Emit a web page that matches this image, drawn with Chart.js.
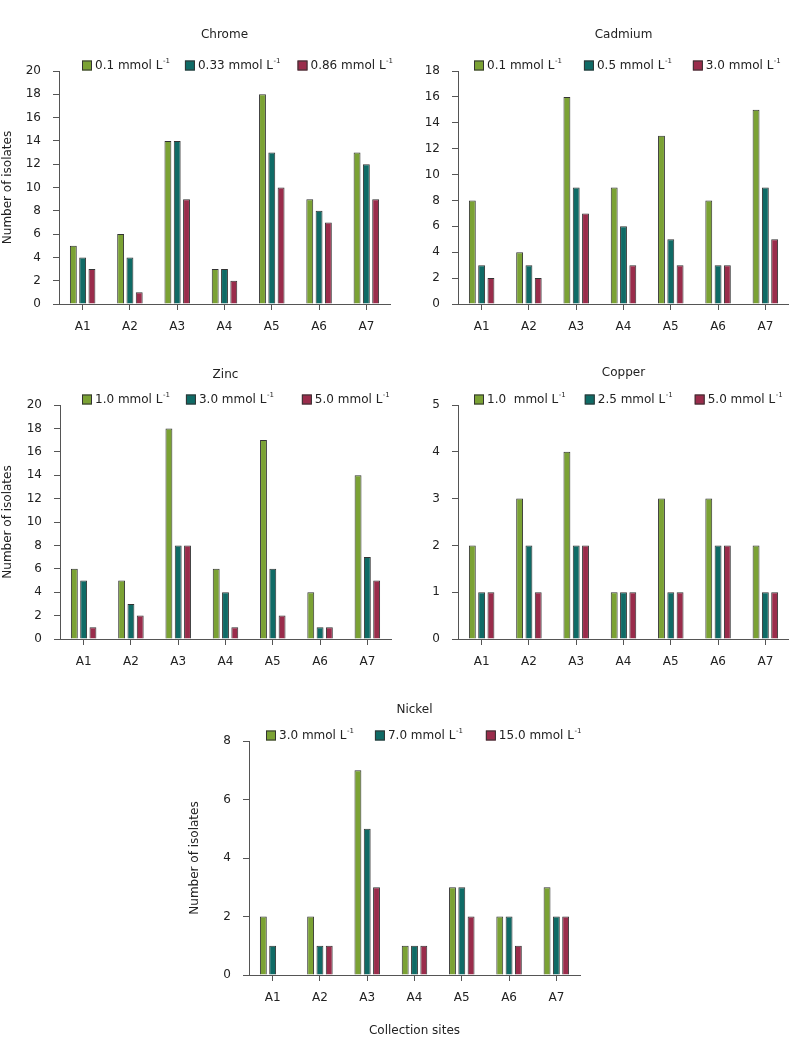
<!DOCTYPE html>
<html>
<head>
<meta charset="utf-8">
<script src="https://cdn.jsdelivr.net/npm/chart.js@4"></script>
<style>
  body { margin: 0; background: #fff; }
  .box { position: absolute; }
</style>
</head>
<body>
<div class="box" style="left:0;top:0;width:400px;height:334px"><canvas id="chrome"></canvas></div>
<div class="box" style="left:400px;top:0;width:389px;height:334px"><canvas id="cadmium"></canvas></div>
<div class="box" style="left:0;top:340px;width:400px;height:329px"><canvas id="zinc"></canvas></div>
<div class="box" style="left:400px;top:340px;width:389px;height:329px"><canvas id="copper"></canvas></div>
<div class="box" style="left:180px;top:680px;width:420px;height:358px"><canvas id="nickel"></canvas></div>
<script>
const sites = ["A1", "A2", "A3", "A4", "A5", "A6", "A7"];

// Chrome
const chromeLevels = ["0.1 mmol L⁻¹", "0.33 mmol L⁻¹", "0.86 mmol L⁻¹"];
const chromeLow = [5, 6, 14, 3, 18, 9, 13];
const chromeMid = [4, 4, 14, 3, 13, 8, 12];
const chromeHigh = [3, 1, 9, 2, 10, 7, 9];

// Cadmium
const cadmiumLevels = ["0.1 mmol L⁻¹", "0.5 mmol L⁻¹", "3.0 mmol L⁻¹"];
const cadmiumLow = [8, 4, 16, 9, 13, 8, 15];
const cadmiumMid = [3, 3, 9, 6, 5, 3, 9];
const cadmiumHigh = [2, 2, 7, 3, 3, 3, 5];

// Zinc
const zincLevels = ["1.0 mmol L⁻¹", "3.0 mmol L⁻¹", "5.0 mmol L⁻¹"];
const zincLow = [6, 5, 18, 6, 17, 4, 14];
const zincMid = [5, 3, 8, 4, 6, 1, 7];
const zincHigh = [1, 2, 8, 1, 2, 1, 5];

// Copper
const copperLevels = ["1.0  mmol L⁻¹", "2.5 mmol L⁻¹", "5.0 mmol L⁻¹"];
const copperLow = [2, 3, 4, 1, 3, 3, 2];
const copperMid = [1, 2, 2, 1, 1, 2, 1];
const copperHigh = [1, 1, 2, 1, 1, 2, 1];

// Nickel
const nickelLevels = ["3.0 mmol L⁻¹", "7.0 mmol L⁻¹", "15.0 mmol L⁻¹"];
const nickelLow = [2, 2, 7, 1, 3, 2, 3];
const nickelMid = [1, 1, 5, 1, 3, 2, 2];
const nickelHigh = [0, 1, 3, 1, 2, 1, 2];

const colors = ["#7ba234", "#0f6b66", "#9a2c4b"];
const FONT = "'DejaVu Sans', sans-serif";
Chart.defaults.font.family = FONT;
Chart.defaults.font.size = 12;
Chart.defaults.color = "#222";

// legend drawn just above the plot, left aligned, with a real superscript for L-1
const topLegend = {
  id: "topLegend",
  afterDraw(chart, args, opts) {
    const { ctx, chartArea } = chart;
    ctx.save();
    ctx.textBaseline = "middle";
    let x = chartArea.left + opts.offset;
    const y = chartArea.top - 5.5;
    chart.data.datasets.forEach((ds, i) => {
      ctx.fillStyle = ds.backgroundColor;
      ctx.fillRect(x, y - 5, 10, 10);
      ctx.strokeStyle = "#333";
      ctx.lineWidth = 1;
      ctx.strokeRect(x + 0.5, y - 4.5, 9, 9);
      ctx.fillStyle = "#222";
      const hasSup = ds.label.endsWith("⁻¹");
      const base = hasSup ? ds.label.slice(0, -2) : ds.label;
      ctx.font = "12px " + FONT;
      ctx.fillText(base, x + 13, y);
      let w = ctx.measureText(base).width;
      if (hasSup) {
        ctx.font = "7px " + FONT;
        ctx.fillText("-1", x + 13 + w + 0.5, y - 4);
        w += ctx.measureText("-1").width + 0.5;
      }
      x += 13 + w + (opts.gaps[i] || 0);
    });
    ctx.restore();
  },
};

function makeChart(id, opts) {
  const ctx = document.getElementById(id).getContext("2d");
  return new Chart(ctx, {
    type: "bar",
    data: {
      labels: sites,
      datasets: opts.series.map((values, i) => ({
        label: opts.levels[i],
        data: values,
        backgroundColor: colors[i],
        borderColor: "#333",
        borderWidth: 1,
        categoryPercentage: 0.59,
        barPercentage: 0.74,
      })),
    },
    options: {
      responsive: true,
      maintainAspectRatio: false,
      animation: false,
      layout: { padding: { right: opts.padRight || 0 } },
      plugins: {
        legend: { display: false },
        tooltip: { enabled: false },
        title: {
          display: true,
          text: opts.title,
          fullSize: false,
          color: "#222",
          font: { size: 12, weight: "normal" },
          padding: { top: opts.titleTop, bottom: opts.titleBottom },
        },
        topLegend: { offset: opts.legendOffset, gaps: opts.legendGaps },
      },
      scales: {
        x: {
          grid: { offset: false, drawOnChartArea: false, tickLength: 6, color: "#555" },
          border: { color: "#555" },
          ticks: { padding: 10, color: "#222" },
          title: {
            display: !!opts.xTitle,
            text: opts.xTitle,
            color: "#222",
            padding: { top: 0, bottom: 0 },
          },
          afterFit: (scale) => { scale.height = opts.xHeight; },
        },
        y: {
          min: 0,
          max: opts.max,
          grid: { drawOnChartArea: false, tickLength: 6, color: "#555" },
          border: { color: "#555" },
          ticks: { stepSize: opts.step, padding: 12, color: "#222" },
          title: {
            display: !!opts.yTitle,
            text: opts.yTitle,
            color: "#222",
            padding: { top: opts.yTitlePad || 1, bottom: 0 },
          },
          afterFit: (scale) => { scale.width = opts.yWidth; },
        },
      },
    },
    plugins: [topLegend],
  });
}

makeChart("chrome", {
  title: "Chrome", levels: chromeLevels, series: [chromeLow, chromeMid, chromeHigh],
  max: 20, step: 2, yTitle: "Number of isolates", yWidth: 59, xHeight: 30,
  titleTop: 27.8, titleBottom: 28.8, padRight: 10, legendOffset: 23, legendGaps: [15, 17],
});
makeChart("cadmium", {
  title: "Cadmium", levels: cadmiumLevels, series: [cadmiumLow, cadmiumMid, cadmiumHigh],
  max: 18, step: 2, yWidth: 58, xHeight: 30,
  titleTop: 27.8, titleBottom: 28.8, padRight: 0, legendOffset: 16, legendGaps: [22, 21],
});
makeChart("zinc", {
  title: "Zinc", levels: zincLevels, series: [zincLow, zincMid, zincHigh],
  max: 20, step: 2, yTitle: "Number of isolates", yWidth: 60, xHeight: 30,
  titleTop: 27.8, titleBottom: 22.8, padRight: 9, legendOffset: 22, legendGaps: [16, 28],
});
makeChart("copper", {
  title: "Copper", levels: copperLevels, series: [copperLow, copperMid, copperHigh],
  max: 5, step: 1, yWidth: 58, xHeight: 30,
  titleTop: 25.8, titleBottom: 24.8, padRight: 0, legendOffset: 16, legendGaps: [19, 22],
});
makeChart("nickel", {
  title: "Nickel", levels: nickelLevels, series: [nickelLow, nickelMid, nickelHigh],
  max: 8, step: 2, yTitle: "Number of isolates", yTitlePad: 8, yWidth: 69, xHeight: 63,
  xTitle: "Collection sites",
  titleTop: 22.8, titleBottom: 23.8, padRight: 20, legendOffset: 17, legendGaps: [21, 23],
});
</script>
</body>
</html>
